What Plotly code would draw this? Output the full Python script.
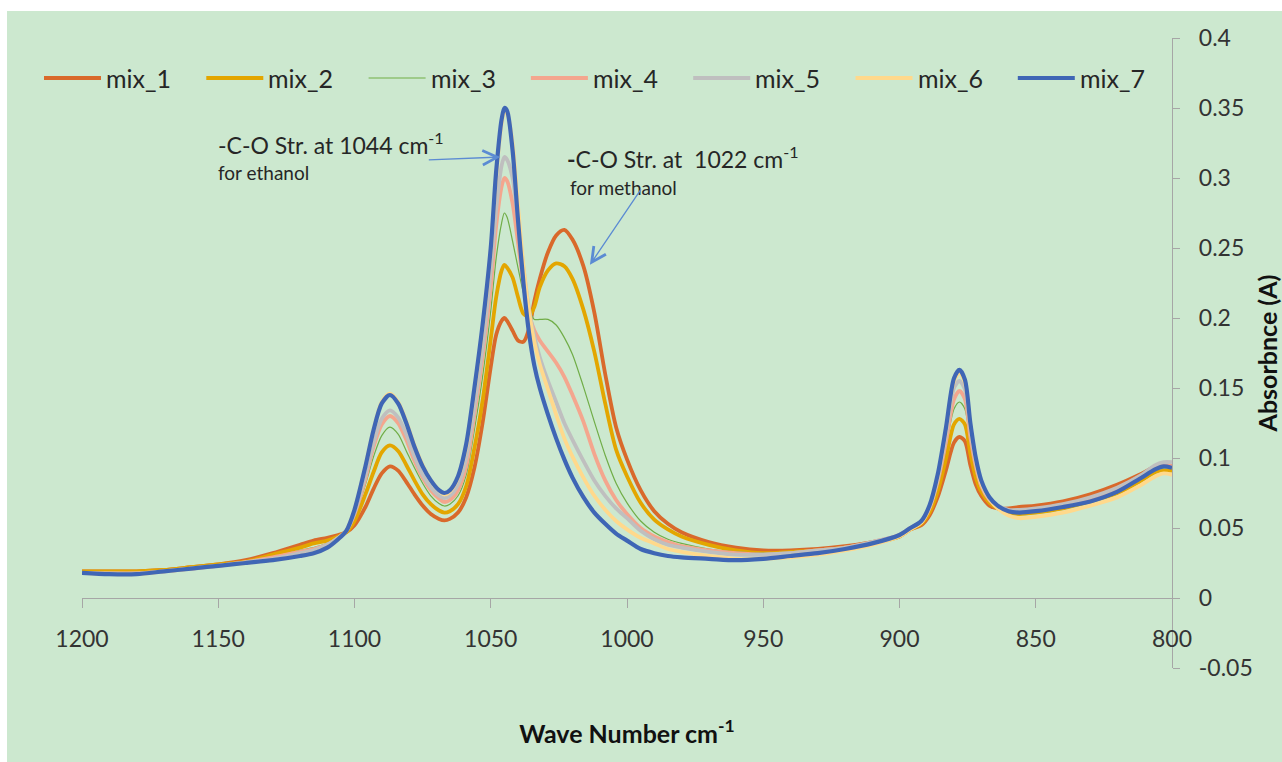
import plotly.graph_objects as go

# Wavenumber grid (cm-1), shared by all spectra
wavenumber = [
    1200, 1190, 1180, 1170, 1160, 1150, 1140, 1130, 1120, 1115,
    1110, 1106, 1103, 1100, 1096, 1093, 1090, 1087, 1084, 1081,
    1078, 1075, 1072, 1069, 1067, 1065, 1062, 1059, 1056, 1053,
    1050, 1048, 1046, 1045, 1044, 1042, 1040, 1038, 1036, 1034,
    1032, 1029, 1026, 1023, 1020, 1016, 1012, 1008, 1004, 1000,
    995, 990, 985, 980, 970, 960, 950, 940, 930, 920,
    910, 900, 896, 892, 889, 886, 883, 880, 878, 876,
    874, 872, 870, 867, 864, 860, 856, 850, 840, 830,
    820, 812, 806, 803, 800,
]

# Absorbance of each mixture
mix_1 = [
    0.019, 0.019, 0.019, 0.020, 0.022, 0.024, 0.027, 0.032, 0.038, 0.041,
    0.043, 0.045, 0.047, 0.052, 0.065, 0.078, 0.089, 0.094, 0.091, 0.083,
    0.074, 0.066, 0.060, 0.0565, 0.0555, 0.0565, 0.061, 0.072, 0.093, 0.125,
    0.165, 0.188, 0.198, 0.200, 0.198, 0.191, 0.184, 0.183, 0.192, 0.212,
    0.228, 0.247, 0.259, 0.263, 0.256, 0.237, 0.204, 0.160, 0.122, 0.099,
    0.077, 0.062, 0.053, 0.047, 0.040, 0.036, 0.034, 0.034, 0.035, 0.037,
    0.040, 0.044, 0.049, 0.052, 0.059, 0.072, 0.091, 0.111, 0.115, 0.112,
    0.095, 0.081, 0.073, 0.066, 0.064, 0.064, 0.065, 0.066, 0.069, 0.074,
    0.081, 0.088, 0.094, 0.095, 0.094,
]
mix_2 = [
    0.019, 0.019, 0.019, 0.020, 0.022, 0.024, 0.026, 0.031, 0.036, 0.039,
    0.041, 0.044, 0.047, 0.055, 0.074, 0.090, 0.104, 0.109, 0.105, 0.095,
    0.084, 0.074, 0.067, 0.0625, 0.061, 0.062, 0.067, 0.080, 0.107, 0.141,
    0.185, 0.215, 0.234, 0.238, 0.236, 0.229, 0.215, 0.203, 0.201, 0.208,
    0.222, 0.234, 0.239, 0.237, 0.228, 0.206, 0.176, 0.139, 0.106, 0.087,
    0.068, 0.056, 0.049, 0.044, 0.038, 0.034, 0.032, 0.033, 0.034, 0.036,
    0.039, 0.044, 0.049, 0.053, 0.061, 0.076, 0.099, 0.124, 0.128, 0.124,
    0.103, 0.086, 0.076, 0.068, 0.064, 0.061, 0.060, 0.061, 0.064, 0.069,
    0.075, 0.083, 0.090, 0.091, 0.091,
]
mix_3 = [
    0.0185, 0.018, 0.018, 0.0195, 0.0215, 0.0235, 0.026, 0.029, 0.034, 0.036,
    0.039, 0.043, 0.047, 0.058, 0.081, 0.101, 0.116, 0.122, 0.117, 0.105,
    0.093, 0.082, 0.073, 0.0675, 0.0657, 0.067, 0.073, 0.088, 0.120, 0.158,
    0.205, 0.243, 0.268, 0.275, 0.272, 0.255, 0.236, 0.218, 0.206, 0.199,
    0.199, 0.199, 0.195, 0.186, 0.174, 0.151, 0.126, 0.102, 0.082, 0.068,
    0.055, 0.047, 0.042, 0.039, 0.035, 0.033, 0.032, 0.033, 0.034, 0.036,
    0.040, 0.045, 0.049, 0.054, 0.063, 0.080, 0.107, 0.135, 0.140, 0.135,
    0.111, 0.091, 0.079, 0.069, 0.065, 0.062, 0.061, 0.062, 0.065, 0.070,
    0.076, 0.085, 0.092, 0.093, 0.093,
]
mix_4 = [
    0.018, 0.0176, 0.0176, 0.019, 0.021, 0.023, 0.0256, 0.029, 0.033, 0.035,
    0.038, 0.043, 0.048, 0.060, 0.085, 0.108, 0.124, 0.130, 0.125, 0.113,
    0.098, 0.086, 0.077, 0.071, 0.0686, 0.070, 0.077, 0.094, 0.131, 0.172,
    0.222, 0.266, 0.294, 0.300, 0.298, 0.282, 0.254, 0.225, 0.203, 0.191,
    0.184, 0.176, 0.168, 0.158, 0.145, 0.126, 0.103, 0.084, 0.070, 0.060,
    0.050, 0.044, 0.040, 0.037, 0.034, 0.032, 0.031, 0.032, 0.034, 0.036,
    0.040, 0.045, 0.050, 0.054, 0.064, 0.083, 0.111, 0.142, 0.148, 0.142,
    0.115, 0.094, 0.080, 0.070, 0.065, 0.062, 0.062, 0.063, 0.066, 0.071,
    0.077, 0.086, 0.093, 0.095, 0.094,
]
mix_5 = [
    0.018, 0.0175, 0.0175, 0.019, 0.021, 0.023, 0.0255, 0.028, 0.032, 0.034,
    0.038, 0.043, 0.048, 0.061, 0.088, 0.111, 0.128, 0.134, 0.129, 0.117,
    0.101, 0.088, 0.079, 0.073, 0.0714, 0.073, 0.081, 0.100, 0.137, 0.179,
    0.234, 0.278, 0.309, 0.315, 0.313, 0.300, 0.270, 0.236, 0.207, 0.187,
    0.172, 0.155, 0.140, 0.125, 0.113, 0.098, 0.084, 0.073, 0.064, 0.057,
    0.048, 0.042, 0.038, 0.036, 0.033, 0.031, 0.031, 0.032, 0.034, 0.036,
    0.040, 0.045, 0.050, 0.055, 0.065, 0.085, 0.116, 0.150, 0.155, 0.149,
    0.120, 0.097, 0.082, 0.071, 0.066, 0.063, 0.063, 0.064, 0.067, 0.072,
    0.079, 0.087, 0.095, 0.097, 0.097,
]
mix_6 = [
    0.018, 0.017, 0.017, 0.019, 0.021, 0.023, 0.025, 0.027, 0.030, 0.032,
    0.036, 0.042, 0.048, 0.063, 0.094, 0.120, 0.140, 0.146, 0.140, 0.126,
    0.109, 0.095, 0.084, 0.077, 0.074, 0.076, 0.086, 0.108, 0.148, 0.193,
    0.248, 0.302, 0.339, 0.347, 0.346, 0.325, 0.280, 0.237, 0.205, 0.183,
    0.167, 0.149, 0.131, 0.114, 0.101, 0.086, 0.073, 0.063, 0.055, 0.049,
    0.043, 0.039, 0.035, 0.033, 0.030, 0.028, 0.028, 0.029, 0.031, 0.034,
    0.038, 0.044, 0.049, 0.054, 0.065, 0.086, 0.119, 0.155, 0.161, 0.154,
    0.123, 0.098, 0.082, 0.071, 0.064, 0.059, 0.057, 0.058, 0.061, 0.066,
    0.072, 0.080, 0.087, 0.089, 0.088,
]
mix_7 = [
    0.018, 0.017, 0.017, 0.019, 0.021, 0.023, 0.025, 0.027, 0.030, 0.032,
    0.036, 0.042, 0.048, 0.063, 0.094, 0.120, 0.139, 0.145, 0.139, 0.125,
    0.108, 0.094, 0.084, 0.077, 0.075, 0.077, 0.087, 0.110, 0.150, 0.195,
    0.250, 0.305, 0.342, 0.350, 0.348, 0.320, 0.270, 0.225, 0.190, 0.166,
    0.150, 0.131, 0.114, 0.099, 0.086, 0.072, 0.061, 0.053, 0.046, 0.041,
    0.035, 0.032, 0.030, 0.029, 0.028, 0.027, 0.028, 0.030, 0.032, 0.035,
    0.039, 0.045, 0.050, 0.055, 0.066, 0.088, 0.121, 0.157, 0.163, 0.156,
    0.125, 0.100, 0.084, 0.072, 0.066, 0.062, 0.061, 0.062, 0.065, 0.069,
    0.076, 0.085, 0.092, 0.094, 0.093,
]

series_names = ["mix_1", "mix_2", "mix_3", "mix_4", "mix_5", "mix_6", "mix_7"]
series_values = [mix_1, mix_2, mix_3, mix_4, mix_5, mix_6, mix_7]

x_tick_values = [1200, 1150, 1100, 1050, 1000, 950, 900, 850, 800]
y_tick_values = [-0.05, 0, 0.05, 0.1, 0.15, 0.2, 0.25, 0.3, 0.35, 0.4]
y_tick_labels = ["-0.05", "0", "0.05", "0.1", "0.15", "0.2", "0.25", "0.3", "0.35", "0.4"]

for values in series_values:
    assert len(values) == len(wavenumber)

# Styling
colors = ["#D9692B", "#E3A600", "#70AD47", "#F4A68E", "#BFBFBF", "#FFD98C", "#3F66B5"]
widths = [3.8, 3.8, 1.2, 3.8, 3.8, 3.8, 4.2]
FONT = "Lato"
BG = "#CCE8CF"
AXIS = "#A6A6A6"
TEXT = "#262626"
ARROW = "#5B8BD3"

W, H = 1282, 762
L, R, T, B = 82, 110, 38, 94
PW, PH = W - L - R, H - T - B


def px_x(px):
    return (px - L) / PW


def px_y(py):
    return (H - B - py) / PH


fig = go.Figure()
for name, values, color, width in zip(series_names, series_values, colors, widths):
    fig.add_trace(go.Scatter(
        x=wavenumber, y=values, name=name, mode="lines",
        line=dict(color=color, width=width, shape="spline", smoothing=0.8),
        showlegend=False,
    ))

shapes = [
    # white frame strips around the green chart area
    dict(type="rect", xref="paper", yref="paper", x0=px_x(-20), x1=px_x(7),
         y0=px_y(800), y1=px_y(-20), fillcolor="white", line_width=0, layer="below"),
    dict(type="rect", xref="paper", yref="paper", x0=px_x(-20), x1=px_x(1300),
         y0=px_y(11), y1=px_y(-20), fillcolor="white", line_width=0, layer="below"),
]
annotations = []

# legend row across the top
LEG_Y = 78
for i, (name, color, width) in enumerate(zip(series_names, colors, widths)):
    x0 = 44 + 162.3 * i
    shapes.append(dict(type="line", xref="paper", yref="paper",
                       x0=px_x(x0), x1=px_x(x0 + 57), y0=px_y(LEG_Y), y1=px_y(LEG_Y),
                       line=dict(color=color, width=width)))
    annotations.append(dict(xref="paper", yref="paper", x=px_x(x0 + 60), y=px_y(LEG_Y),
                            text=name, showarrow=False, xanchor="left", yanchor="middle",
                            font=dict(family=FONT, size=25, color=TEXT)))

# band labels
annotations += [
    dict(xref="paper", yref="paper", x=px_x(216), y=px_y(144),
         text="-C-O Str. at 1044 cm<sup>-1</sup>", showarrow=False,
         xanchor="left", yanchor="middle", font=dict(family=FONT, size=23, color=TEXT)),
    dict(xref="paper", yref="paper", x=px_x(216), y=px_y(172),
         text="for ethanol", showarrow=False,
         xanchor="left", yanchor="middle", font=dict(family=FONT, size=19, color=TEXT)),
    dict(xref="paper", yref="paper", x=px_x(565), y=px_y(157),
         text="<b>-</b>C-O Str. at\u00a0 1022 cm<sup>-1</sup>", showarrow=False,
         xanchor="left", yanchor="middle", font=dict(family=FONT, size=23, color=TEXT)),
    dict(xref="paper", yref="paper", x=px_x(568), y=px_y(187),
         text="for methanol", showarrow=False,
         xanchor="left", yanchor="middle", font=dict(family=FONT, size=19, color=TEXT)),
    dict(x=1046.5, y=0.315, xref="x", yref="y", text="", showarrow=True,
         ax=-73, ay=3, arrowhead=5, arrowsize=2.2, arrowwidth=1.3, arrowcolor=ARROW),
    dict(x=1013.6, y=0.238, xref="x", yref="y", text="", showarrow=True,
         ax=52, ay=-77, arrowhead=5, arrowsize=2.2, arrowwidth=1.3, arrowcolor=ARROW),
]

fig.update_layout(
    width=W, height=H,
    margin=dict(l=L, r=R, t=T, b=B, autoexpand=False),
    paper_bgcolor=BG, plot_bgcolor=BG,
    font=dict(family=FONT, color=TEXT),
    shapes=shapes, annotations=annotations,
    showlegend=False,
    xaxis=dict(
        range=[1200, 800], tickvals=x_tick_values,
        showline=True, linecolor=AXIS, linewidth=1.4,
        ticks="outside", ticklen=9, tickwidth=1.2, tickcolor=AXIS,
        tickfont=dict(family=FONT, size=23, color="#333333"),
        ticklabelstandoff=11,
        anchor="free", position=0.05 / 0.45,
        showgrid=False, zeroline=False, automargin=False,
        title=dict(text="<b>Wave Number cm<sup>-1</sup></b>", standoff=74,
                   font=dict(family=FONT, size=25, color="#111111")),
    ),
    yaxis=dict(
        range=[-0.05, 0.4], side="right",
        tickvals=y_tick_values, ticktext=y_tick_labels,
        showline=True, linecolor=AXIS, linewidth=1.4,
        ticks="outside", ticklen=7, tickwidth=1.2, tickcolor=AXIS,
        tickfont=dict(family=FONT, size=23, color="#333333"),
        ticklabelstandoff=14,
        showgrid=False, zeroline=False, automargin=False,
        title=dict(text="<b>Absorbnce (A)</b>", standoff=16,
                   font=dict(family=FONT, size=25, color="#111111")),
    ),
)

fig.write_html("out.html")
